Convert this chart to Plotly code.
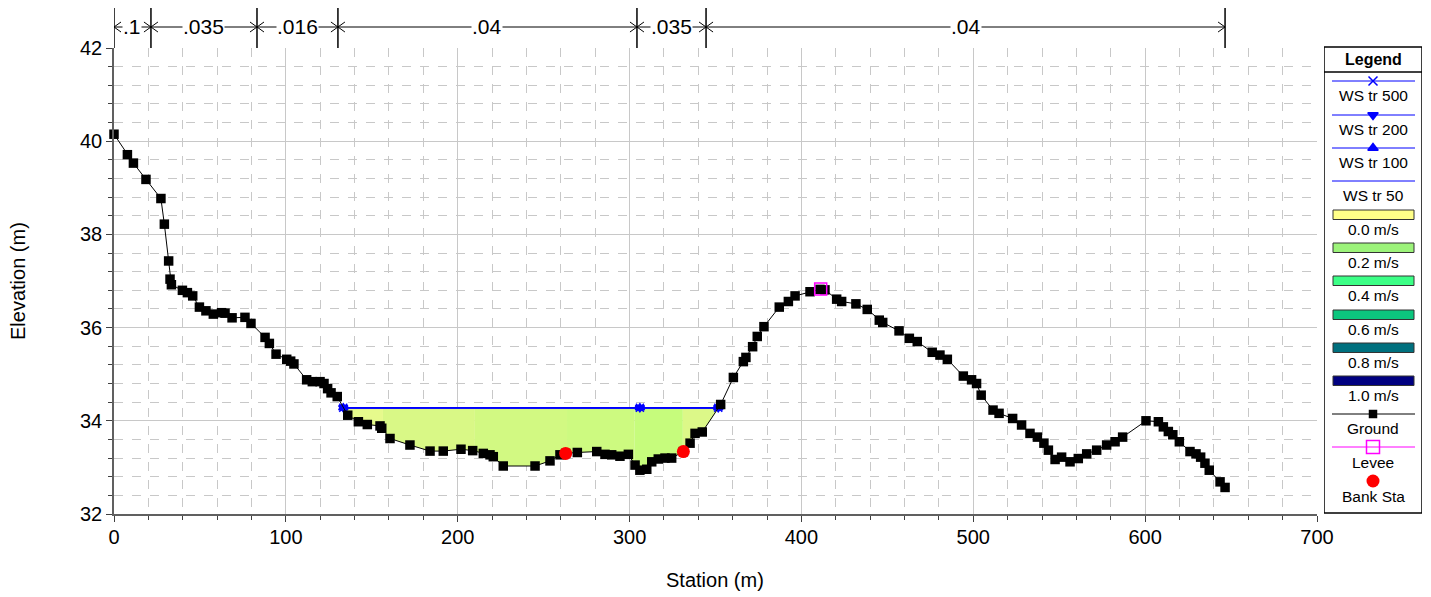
import numpy as np
import plotly.graph_objects as go

# ---------------- data ----------------
ground_sta = [0, 7.8, 11.3, 18.6, 27.3, 29.3, 31.8, 32.6, 33.4, 39.8, 42.7, 45.8, 49.7, 53.5, 57.8,
              62.6, 64.6, 68.7, 76.2, 79.7, 87.9, 90.4, 94.3, 100.5, 102.8, 104.7, 112.1, 115.4,
              119.9, 122.2, 124.3, 126.3, 129.9, 136.0, 142.2, 147.4, 154.8, 155.8, 160.6, 172.2,
              183.9, 191.6, 201.9, 208.7, 214.9, 218.8, 220.7, 226.5, 245.0, 253.7, 259.5, 262.8,
              269.6, 280.9, 285.7, 289.6, 294.4, 299.3, 303.2, 306.0, 310.0, 312.9, 316.7, 320.6,
              324.5, 331.3, 335.2, 338.1, 342.3, 353.0, 360.4, 366.2, 367.7, 371.6, 374.3, 378.2,
              387.1, 392.4, 396.3, 405.0, 410.8, 413.7, 420.5, 423.4, 431.7, 438.3, 445.3, 447.3,
              456.8, 462.8, 467.4, 476.1, 480.6, 484.9, 494.2, 499.0, 501.9, 504.6, 511.5, 515.0,
              522.9, 528.1, 533.0, 537.3, 541.1, 543.7, 547.6, 551.4, 556.3, 561.1, 566.0, 571.8,
              577.6, 582.5, 586.9, 600.5, 607.7, 610.6, 613.5, 616.1, 619.9, 626.1, 629.6, 632.3,
              634.8, 637.3, 643.6, 646.5]
ground_elev = [40.15, 39.71, 39.53, 39.18, 38.77, 38.22, 37.43, 37.04, 36.92, 36.80, 36.75, 36.68,
               36.44, 36.36, 36.29, 36.32, 36.31, 36.21, 36.22, 36.09, 35.79, 35.66, 35.43, 35.32,
               35.28, 35.22, 34.88, 34.84, 34.84, 34.80, 34.69, 34.60, 34.52, 34.12, 33.98, 33.92,
               33.89, 33.84, 33.62, 33.48, 33.35, 33.35, 33.39, 33.36, 33.30, 33.27, 33.23, 33.03,
               33.03, 33.14, 33.27, 33.30, 33.32, 33.34, 33.28, 33.27, 33.24, 33.28, 33.05, 32.94,
               32.96, 33.12, 33.18, 33.20, 33.20, 33.34, 33.52, 33.73, 33.76, 34.35, 34.93, 35.27,
               35.36, 35.59, 35.81, 36.02, 36.44, 36.56, 36.68, 36.77, 36.82, 36.81, 36.61, 36.56,
               36.51, 36.39, 36.16, 36.11, 35.93, 35.77, 35.70, 35.47, 35.41, 35.32, 34.96, 34.88,
               34.80, 34.55, 34.23, 34.16, 34.05, 33.91, 33.73, 33.65, 33.52, 33.37, 33.17, 33.22,
               33.12, 33.19, 33.29, 33.37, 33.48, 33.55, 33.65, 34.00, 33.98, 33.87, 33.77, 33.70,
               33.55, 33.34, 33.29, 33.22, 33.09, 32.94, 32.69, 32.57]

ws_elev = 34.28
ws_left, ws_right = 133.4, 351.6
ws_marker_sta = [133.4, 306.0, 351.6]
ws_names = ["WS tr 500", "WS tr 200", "WS tr 100", "WS tr 50"]
ws_symbols = ["x-thin", "triangle-down", "triangle-up", None]

bank_sta = [262.8, 331.3]
bank_elev = [33.30, 33.34]
levee_sta = [411.2]
levee_elev = [36.83]

vel_breaks = [133.4, 156.5, 210.0, 263.6, 303.0, 331.0, 351.6]
vel_fill_colors = ["#e6fa8c", "#d9f886", "#d2f982", "#cdfa80", "#c6fc7c", "#dcf888"]

n_breaks = [0, 21.5, 83.2, 130.3, 304.3, 344.5, 646.5]
n_values = [".1", ".035", ".016", ".04", ".035", ".04"]

vel_legend_labels = ["0.0 m/s", "0.2 m/s", "0.4 m/s", "0.6 m/s", "0.8 m/s", "1.0 m/s"]
vel_legend_colors = ["#ffff88", "#9cf37a", "#3cff86", "#0cc67e", "#00707e", "#000080"]

FONT = "Arial, Liberation Sans, sans-serif"
# the page body has an 8px margin, so the figure starts at page pixel (8, 8)
OFF = 8
W, H = 1431 - OFF, 597 - OFF
PLOT_L, PLOT_R, PLOT_T, PLOT_B = 114, 1422, 46, 515   # page pixels of the full axes area
ML, MT = PLOT_L - OFF, PLOT_T - OFF
MR, MB = 1431 - PLOT_R, 597 - PLOT_B
PW, PH = W - ML - MR, H - MT - MB

def px_x(p):  # page pixel -> paper x
    return (p - PLOT_L) / PW

def px_y(p):  # page pixel -> paper y
    return (PLOT_B - p) / PH

fig = go.Figure()

# velocity fill strips
gs = np.array(ground_sta)
ge = np.array(ground_elev)
for i, col in enumerate(vel_fill_colors):
    a, b = vel_breaks[i], vel_breaks[i + 1]
    inner = gs[(gs > a) & (gs < b)]
    xs = np.concatenate([[a], inner, [b]])
    ys = np.interp(xs, gs, ge)
    ys = np.minimum(ys, ws_elev)
    px = list(xs) + [b, a]
    py = list(ys) + [ws_elev, ws_elev]
    fig.add_trace(go.Scatter(x=px, y=py, fill="toself", fillcolor=col, mode="none",
                             showlegend=False, hoverinfo="skip"))

# water surfaces
for name, sym in zip(ws_names, ws_symbols):
    fig.add_trace(go.Scatter(x=[ws_left, ws_right], y=[ws_elev, ws_elev], mode="lines",
                             line=dict(color="#0000ff", width=1.5), showlegend=False, name=name))
    if sym:
        fig.add_trace(go.Scatter(x=ws_marker_sta, y=[ws_elev] * len(ws_marker_sta), mode="markers",
                                 marker=dict(symbol=sym, size=8, color="#0000ff",
                                             line=dict(color="#0000ff", width=1.5)),
                                 showlegend=False, name=name))

# ground
fig.add_trace(go.Scatter(x=ground_sta, y=ground_elev, mode="lines+markers",
                         line=dict(color="black", width=1),
                         marker=dict(symbol="square", size=9.5, color="black"),
                         showlegend=False, cliponaxis=False, name="Ground"))
# levee
fig.add_trace(go.Scatter(x=levee_sta, y=levee_elev, mode="markers",
                         marker=dict(symbol="square-open", size=12, color="#ff00ff",
                                     line=dict(color="#ff00ff", width=1.5)),
                         showlegend=False, name="Levee"))
# bank stations
fig.add_trace(go.Scatter(x=bank_sta, y=bank_elev, mode="markers",
                         marker=dict(symbol="circle", size=13, color="#ff0000"),
                         showlegend=False, name="Bank Sta"))

shapes = []
annotations = []

# Manning's n brackets
yb = px_y(27)
dx = 7 / (1203 / 700)
dy = 5 / PH
for s in n_breaks:
    shapes.append(dict(type="line", xref="x", yref="paper", x0=s, x1=s, y0=px_y(48), y1=px_y(5),
                       line=dict(color="black", width=1.5)))
for i, v in enumerate(n_values):
    a, b = n_breaks[i], n_breaks[i + 1]
    shapes.append(dict(type="line", xref="x", yref="paper", x0=a, x1=b, y0=yb, y1=yb,
                       line=dict(color="black", width=1)))
    shapes.append(dict(type="path", xref="x", yref="paper",
                       path=f"M {a+dx},{yb+dy} L {a},{yb} L {a+dx},{yb-dy}",
                       line=dict(color="black", width=1)))
    shapes.append(dict(type="path", xref="x", yref="paper",
                       path=f"M {b-dx},{yb+dy} L {b},{yb} L {b-dx},{yb-dy}",
                       line=dict(color="black", width=1)))
    annotations.append(dict(x=(a + b) / 2, y=yb, xref="x", yref="paper", text=v, showarrow=False,
                            font=dict(family=FONT, size=21, color="black"), bgcolor="white",
                            borderpad=0, xanchor="center", yanchor="middle"))

# axis titles
annotations.append(dict(x=px_x(715), y=px_y(580), xref="paper", yref="paper", text="Station (m)",
                        showarrow=False, xanchor="center", yanchor="middle",
                        font=dict(family=FONT, size=20, color="black")))
annotations.append(dict(x=px_x(18), y=px_y(281), xref="paper", yref="paper", text="Elevation (m)",
                        textangle=-90, showarrow=False, xanchor="center", yanchor="middle",
                        font=dict(family=FONT, size=20, color="black")))

# ---------------- custom legend (x2/y2 in page pixel units) ----------------
LX0, LX1 = 1324, 1422
shapes.append(dict(type="rect", xref="x2", yref="y2", x0=LX0, x1=LX1, y0=47, y1=513,
                   line=dict(color="black", width=1.5), fillcolor="rgba(0,0,0,0)"))
shapes.append(dict(type="line", xref="x2", yref="y2", x0=LX0, x1=LX1, y0=72, y1=72,
                   line=dict(color="black", width=1.5)))
annotations.append(dict(x=1373, y=59, xref="x2", yref="y2", text="<b>Legend</b>", showarrow=False,
                        xanchor="center", yanchor="middle",
                        font=dict(family=FONT, size=16, color="black")))

def leg_label(text, y):
    annotations.append(dict(x=1373, y=y, xref="x2", yref="y2", text=text, showarrow=False,
                            xanchor="center", yanchor="middle",
                            font=dict(family=FONT, size=15.5, color="black")))

ws_leg_y = [81, 115, 148, 181]
for name, sym, y in zip(ws_names, ws_symbols, ws_leg_y):
    fig.add_trace(go.Scatter(x=[1332, 1415], y=[y, y], xaxis="x2", yaxis="y2", mode="lines",
                             line=dict(color="#0000ff", width=1), showlegend=False, hoverinfo="skip"))
    if sym:
        fig.add_trace(go.Scatter(x=[1373], y=[y], xaxis="x2", yaxis="y2", mode="markers",
                                 marker=dict(symbol=sym, size=9, color="#0000ff",
                                             line=dict(color="#0000ff", width=1.5)),
                                 showlegend=False, hoverinfo="skip"))
    leg_label(name, y + 14)

vel_leg_y = [210, 243, 276, 310, 343, 376]
for lab, col, y in zip(vel_legend_labels, vel_legend_colors, vel_leg_y):
    shapes.append(dict(type="rect", xref="x2", yref="y2", x0=1333, x1=1414, y0=y, y1=y + 9.5,
                       fillcolor=col, line=dict(color="#333333", width=1)))
    leg_label(lab, y + 19.5)

fig.add_trace(go.Scatter(x=[1332, 1415], y=[414, 414], xaxis="x2", yaxis="y2", mode="lines",
                         line=dict(color="black", width=1), showlegend=False, hoverinfo="skip"))
fig.add_trace(go.Scatter(x=[1373], y=[414], xaxis="x2", yaxis="y2", mode="markers",
                         marker=dict(symbol="square", size=8.5, color="black"),
                         showlegend=False, hoverinfo="skip"))
leg_label("Ground", 428)
fig.add_trace(go.Scatter(x=[1332, 1415], y=[447, 447], xaxis="x2", yaxis="y2", mode="lines",
                         line=dict(color="#ff00ff", width=1), showlegend=False, hoverinfo="skip"))
fig.add_trace(go.Scatter(x=[1373], y=[447], xaxis="x2", yaxis="y2", mode="markers",
                         marker=dict(symbol="square-open", size=13, color="#ff00ff",
                                     line=dict(color="#ff00ff", width=1.5)),
                         showlegend=False, hoverinfo="skip"))
leg_label("Levee", 462)
fig.add_trace(go.Scatter(x=[1373], y=[481], xaxis="x2", yaxis="y2", mode="markers",
                         marker=dict(symbol="circle", size=13, color="#ff0000"),
                         showlegend=False, hoverinfo="skip"))
leg_label("Bank Sta", 496)

grid_major = "#c8c8c8"
fig.update_layout(
    width=W, height=H,
    margin=dict(l=ML, r=MR, t=MT, b=MB, pad=0, autoexpand=False),
    paper_bgcolor="white", plot_bgcolor="white",
    font=dict(family=FONT, size=20, color="black"),
    showlegend=False,
    shapes=shapes, annotations=annotations,
    xaxis=dict(domain=[0, 1203 / PW], range=[0, 700], dtick=100, tick0=0, automargin=False,
               showgrid=True, gridcolor=grid_major, gridwidth=1.2,
               showline=True, linecolor="#606060", linewidth=1.5,
               ticks="outside", ticklen=6, tickcolor="#404040", tickwidth=1,
               ticklabelstandoff=-2,
               tickfont=dict(family=FONT, size=20, color="black"), zeroline=False,
               minor=dict(dtick=20, showgrid=True, gridcolor=grid_major, griddash="dash",
                          gridwidth=1, ticks="outside", ticklen=4, tickcolor="#404040")),
    yaxis=dict(domain=[px_y(514), px_y(48)], range=[32, 42], dtick=2, tick0=32, automargin=False,
               showgrid=True, gridcolor=grid_major, gridwidth=1.2,
               showline=True, linecolor="#606060", linewidth=1.5,
               ticks="outside", ticklen=6, tickcolor="#404040", tickwidth=1,
               tickfont=dict(family=FONT, size=20, color="black"), zeroline=False,
               minor=dict(dtick=0.4, showgrid=True, gridcolor=grid_major, griddash="dash",
                          gridwidth=1, ticks="outside", ticklen=4, tickcolor="#404040")),
    xaxis2=dict(domain=[px_x(1324), 1.0], range=[1324, 1422], visible=False, anchor="y2",
                automargin=False),
    yaxis2=dict(domain=[0, 1], range=[515, 46], visible=False, anchor="x2", automargin=False),
)

fig.write_html("out.html")
